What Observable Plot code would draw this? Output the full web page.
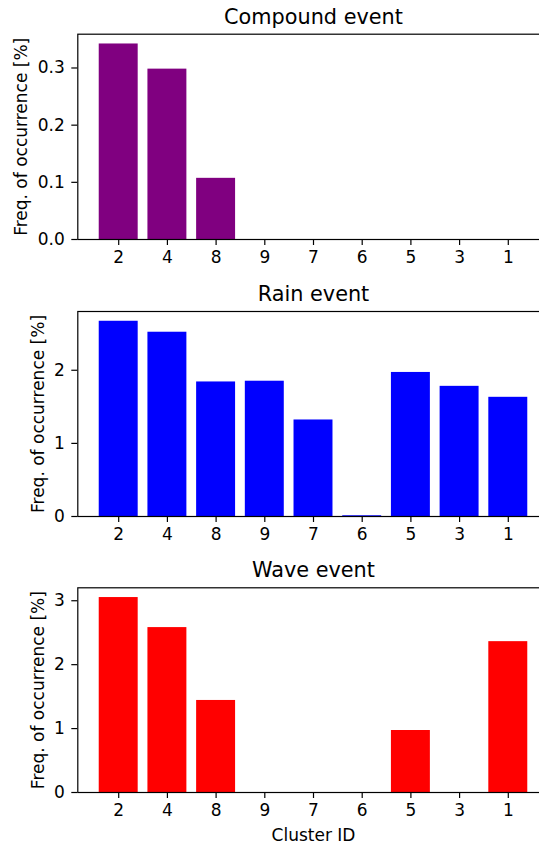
<!DOCTYPE html>
<html>
<head>
<meta charset="utf-8">
<script src="https://cdn.jsdelivr.net/npm/d3@7"></script>
<script src="https://cdn.jsdelivr.net/npm/@observablehq/plot@0.6"></script>
<style>
  html, body { margin: 0; padding: 0; background: white; }
  #chart { width: 539px; height: 845px; overflow: hidden; }
  #chart svg { display: block; }
</style>
</head>
<body>
<div id="chart"></div>
<script>
// Data
const clusters = ["2", "4", "8", "9", "7", "6", "5", "3", "1"];
const compound = [0.342, 0.298, 0.107, 0, 0, 0, 0, 0, 0];
const rain = [2.67, 2.52, 1.84, 1.85, 1.32, 0.01, 1.97, 1.78, 1.63];
const wave = [3.05, 2.58, 1.44, 0, 0, 0, 0.97, 0, 2.36];

const compoundTicks = [0, 0.1, 0.2, 0.3];
const rainTicks = [0, 1, 2];
const waveTicks = [0, 1, 2, 3];

const titles = ["Compound event", "Rain event", "Wave event"];
const yLabel = "Freq. of occurrence [%]";
const xLabel = "Cluster ID";

const W = 539;
const FONT = "DejaVu Sans, sans-serif";

function panel({values, color, height, marginTop, marginBottom, yTicks, yFormat, title, labelDx, xTitle}) {
  const data = clusters.map((c, i) => ({cluster: c, value: values[i]}));
  const ymax = d3.max(values) * 1.05;
  const marks = [
    Plot.barY(data, {x: "cluster", y: "value", fill: color}),
    Plot.axisX({tickSize: 6, tickPadding: 5, label: null, strokeWidth: 1.2}),
    Plot.axisY({ticks: yTicks, tickFormat: yFormat, tickSize: 6, tickPadding: 7, label: null, strokeWidth: 1.2}),
    Plot.frame({stroke: "black", strokeWidth: 1.2}),
    Plot.text([title], {text: d => d, frameAnchor: "top", textAnchor: "middle", dy: -17, fontSize: 20.8, lineAnchor: "middle"}),
    Plot.text([yLabel], {text: d => d, frameAnchor: "left", textAnchor: "middle", rotate: -90, dx: labelDx, lineAnchor: "middle"})
  ];
  if (xTitle) marks.push(Plot.text([xTitle], {text: d => d, frameAnchor: "bottom", textAnchor: "middle", dy: 42.6, lineAnchor: "middle"}));
  return Plot.plot({
    width: W,
    height,
    marginTop,
    marginBottom,
    marginLeft: 77.3,
    marginRight: -9.7,
    style: {fontFamily: FONT, fontSize: "17px", background: "white", color: "black", overflow: "hidden"},
    x: {type: "band", domain: clusters, paddingInner: 0.2, paddingOuter: 0.44, round: false},
    y: {domain: [0, ymax]},
    marks
  });
}

const chart = document.getElementById("chart");
chart.append(panel({values: compound, color: "#800080", height: 277, marginTop: 33.7, marginBottom: 38,
  yTicks: compoundTicks, yFormat: d3.format(".1f"), title: titles[0], labelDx: -56}));
chart.append(panel({values: rain, color: "#0000ff", height: 277, marginTop: 34, marginBottom: 38,
  yTicks: rainTicks, yFormat: d3.format("d"), title: titles[1], labelDx: -39}));
chart.append(panel({values: wave, color: "#ff0000", height: 291, marginTop: 33.3, marginBottom: 53,
  yTicks: waveTicks, yFormat: d3.format("d"), title: titles[2], labelDx: -39, xTitle: xLabel}));
</script>
</body>
</html>
